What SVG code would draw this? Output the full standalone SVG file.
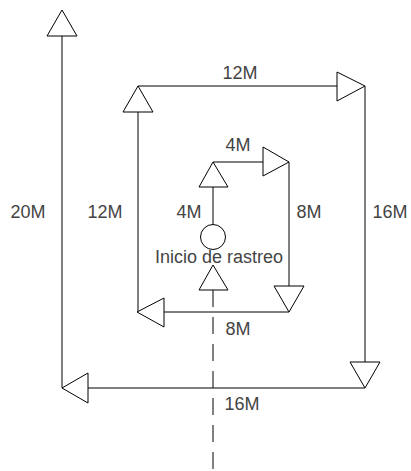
<svg xmlns="http://www.w3.org/2000/svg" width="411" height="471" viewBox="0 0 411 471">
<style>
.ln{stroke:#000;stroke-width:1;fill:none}
.tri{stroke:#000;stroke-width:1;fill:#fff;stroke-linejoin:miter}
.lb{font-family:"Liberation Sans",Arial,sans-serif;font-size:18px;fill:#444;text-anchor:middle}
</style>
<rect width="411" height="471" fill="#fff"/>
<g id="connectors">
<path class="ln" d="M62,388 V36"/>
<path class="ln" d="M365,388 H62"/>
<path class="ln" d="M365,86 V362"/>
<path class="ln" d="M138,86 H337"/>
<path class="ln" d="M138,312 V112"/>
<path class="ln" d="M289,312 H164"/>
<path class="ln" d="M289,162 V286"/>
<path class="ln" d="M213,162 H263"/>
<path class="ln" d="M213,224 V187"/>
<path class="ln" d="M213,290 V470" stroke-dasharray="17 10"/>
</g>
<g id="arrow-20M"><polygon class="tri" points="62,10 77,36 47,36"/></g>
<g id="arrow-16M-bottom"><polygon class="tri" points="62,388 88,373 88,403"/></g>
<g id="arrow-16M-right"><polygon class="tri" points="365,388 350,362 380,362"/></g>
<g id="arrow-12M-top"><polygon class="tri" points="365,86 337,72 337,101"/></g>
<g id="arrow-12M-left"><polygon class="tri" points="138,86 153,112 123,112"/></g>
<g id="arrow-8M-bottom"><polygon class="tri" points="137,312 164,298 164,327"/></g>
<g id="arrow-8M-right"><polygon class="tri" points="289,312 274,286 304,286"/></g>
<g id="arrow-4M-top"><polygon class="tri" points="289,162 263,147 263,176"/></g>
<g id="arrow-4M-left"><polygon class="tri" points="213,162 228,187 199,187"/></g>
<g id="arrow-start"><polygon class="tri" points="213,265 228,290 199,290"/></g>
<g id="start"><circle class="ln" cx="213" cy="237" r="12.5"/>
<text class="lb" x="219" y="263">Inicio de rastreo</text></g>
<g id="labels">
<text class="lb" x="240" y="79">12M</text>
<text class="lb" x="238" y="151">4M</text>
<text class="lb" x="189" y="218">4M</text>
<text class="lb" x="309" y="218">8M</text>
<text class="lb" x="390" y="218">16M</text>
<text class="lb" x="28" y="218">20M</text>
<text class="lb" x="105" y="218">12M</text>
<text class="lb" x="238" y="335">8M</text>
<text class="lb" x="242" y="410">16M</text>
</g>
</svg>
